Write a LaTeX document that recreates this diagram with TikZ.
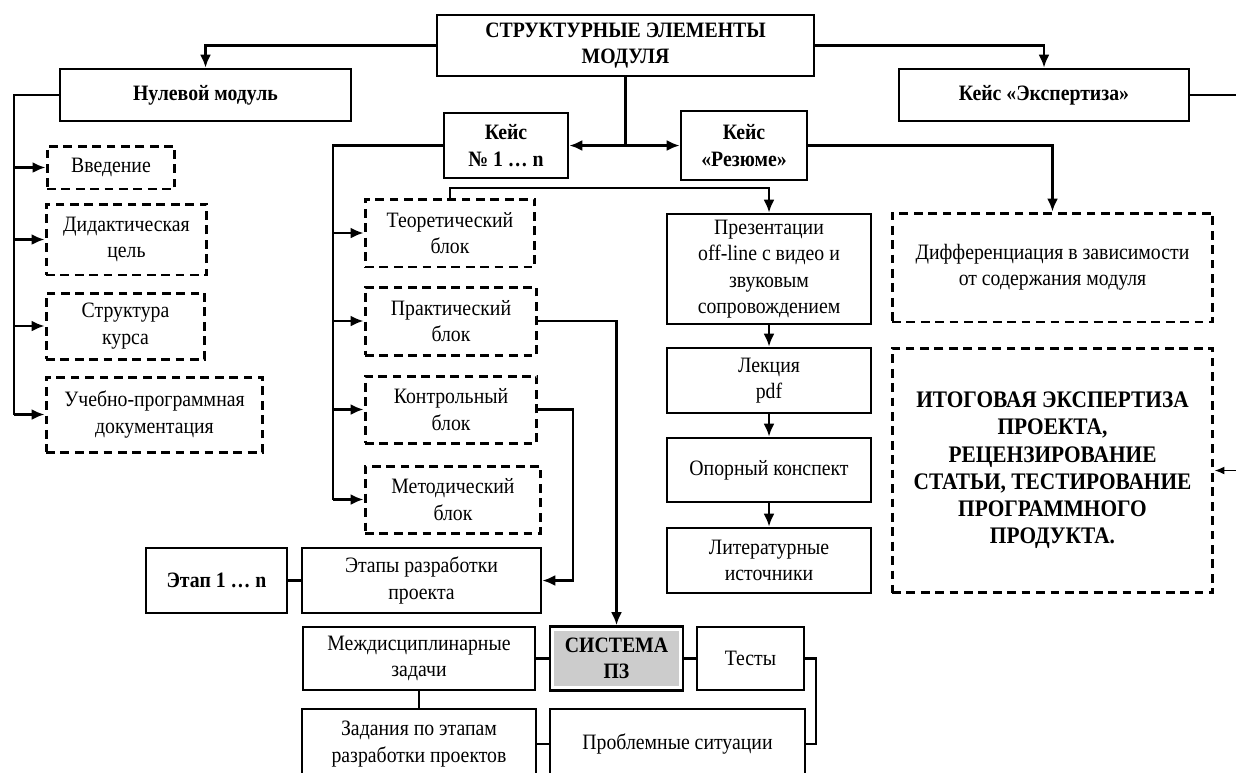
\documentclass[tikz,border=0pt]{standalone}
\usepackage{fontspec}
\setmainfont{Liberation Serif}[FakeStretch=0.9]
\usetikzlibrary{arrows.meta}

\begin{document}
\begin{tikzpicture}[x=0.02cm,y=-0.02cm]
		\tikzstyle{fleche}=[-{Latex[length=2.6mm,width=2.2mm]},line width=1.3pt]
		\tikzstyle{trait}=[line width=1.3pt]
		\tikzstyle{boite}=[draw,line width=1.6pt,align=center,inner sep=2pt,font=\fontsize{12.5}{15}\selectfont]
		\tikzstyle{titre}=[boite,font=\fontsize{12.5}{15}\selectfont\bfseries]
		\tikzstyle{pointille}=[boite,line width=1.7pt,dash pattern=on 5pt off 3.2pt]
		\tikzstyle{systeme}=[titre,path picture={\fill[gray!40] ([shift={(2.5pt,-2.5pt)}]path picture bounding box.north west) rectangle ([shift={(-2.5pt,2.5pt)}]path picture bounding box.south east);}]
		
		\useasboundingbox (0,0) rectangle (1236,772);
		\clip (0,0) rectangle (1236,772);
		
		% haut
		\node[titre,minimum width=7.54cm,minimum height=1.22cm] (M) at (625.5,45.5) {СТРУКТУРНЫЕ ЭЛЕМЕНТЫ\\МОДУЛЯ};
		\node[titre,minimum width=5.82cm,minimum height=1.04cm] (N) at (205.5,95) {Нулевой модуль};
		\node[titre,minimum width=5.8cm,minimum height=1.04cm] (E) at (1044,95) {Кейс «Экспертиза»};
		\node[titre,minimum width=2.48cm,minimum height=1.3cm] (K) at (506,145.5) {Кейс\\№ 1 … n};
		\node[titre,minimum width=2.52cm,minimum height=1.38cm] (R) at (744,145.5) {Кейс\\«Резюме»};
		
		% nulevoi modul
		\node[pointille,minimum width=2.56cm,minimum height=0.86cm] (Na) at (111,167.5) {Введение};
		\node[pointille,minimum width=3.22cm,minimum height=1.42cm] (Nb) at (126.5,239.5) {Дидактическая\\цель};
		\node[pointille,minimum width=3.18cm,minimum height=1.32cm] (Nc) at (125.5,326) {Структура\\курса};
		\node[pointille,minimum width=4.34cm,minimum height=1.5cm] (Nd) at (154.5,414.5) {Учебно-программная\\документация};
		
		% keis 1 ... n
		\node[pointille,minimum width=3.4cm,minimum height=1.36cm] (Ka) at (450,233) {Теоретический\\блок};
		\node[pointille,minimum width=3.44cm,minimum height=1.36cm] (Kb) at (451,321) {Практический\\блок};
		\node[pointille,minimum width=3.44cm,minimum height=1.34cm] (Kc) at (451,409.5) {Контрольный\\блок};
		\node[pointille,minimum width=3.52cm,minimum height=1.34cm] (Kd) at (453,499.5) {Методический\\блок};
		
		% rezume
		\node[boite,minimum width=4.08cm,minimum height=2.2cm] (P) at (769,269) {Презентации\\off-line с видео и\\звуковым\\сопровождением};
		\node[boite,minimum width=4.08cm,minimum height=1.3cm] (Pa) at (769,380.5) {Лекция\\pdf};
		\node[boite,minimum width=4.08cm,minimum height=1.28cm] (Pb) at (769,470) {Опорный конспект};
		\node[boite,minimum width=4.08cm,minimum height=1.3cm] (Pc) at (769,560.5) {Литературные\\источники};
		
		% ekspertiza
		\node[pointille,minimum width=6.42cm,minimum height=2.18cm] (D) at (1052.5,267.5) {Дифференциация в зависимости\\от содержания модуля};
		\node[pointille,minimum width=6.42cm,minimum height=4.9cm,font=\fontsize{13.5}{15.5}\selectfont\bfseries] (I) at (1052.5,470.5) {ИТОГОВАЯ ЭКСПЕРТИЗА\\ПРОЕКТА,\\РЕЦЕНЗИРОВАНИЕ\\СТАТЬИ, ТЕСТИРОВАНИЕ\\ПРОГРАММНОГО\\ПРОДУКТА.};
		
		% bas
		\node[titre,minimum width=2.82cm,minimum height=1.3cm] (Et) at (216.5,580.5) {Этап 1 … n};
		\node[boite,minimum width=4.78cm,minimum height=1.3cm] (Ep) at (421.5,580.5) {Этапы разработки\\проекта};
		\node[boite,minimum width=4.64cm,minimum height=1.26cm] (Md) at (419,658.5) {Междисциплинарные\\задачи};
		\node[systeme,minimum width=2.66cm,minimum height=1.28cm] (S) at (616.5,658.5) {СИСТЕМА\\ПЗ};
		\node[boite,minimum width=2.14cm,minimum height=1.26cm] (T) at (750.5,658.5) {Тесты};
		\node[boite,minimum width=4.68cm,minimum height=1.4cm] (Z) at (419,744) {Задания по этапам\\разработки проектов};
		\node[boite,minimum width=5.1cm,minimum height=1.4cm] (Pr) at (677.5,744) {Проблемные ситуации};
		
		\coordinate (Mb) at (M.south |- K.east);
		\coordinate (Nv) at (14,414.5);
		\coordinate (Kv) at (333,499.5);
		\coordinate (Kh) at (450,188);
		\coordinate (Kk) at (573,409.5);
		\coordinate (Tk) at (816,658.5);
		\coordinate (Eb) at (1236,95);
		\coordinate (Ib) at (1236,470.5);
		
		\draw[fleche] (M.west) -| (N.north);
		\draw[fleche] (M.east) -| (E.north);
		\draw[trait] (M.south) -- (Mb);
		\draw[fleche] (Mb) -- (K.east);
		\draw[fleche] (Mb) -- (R.west);
		\draw[trait] (E.east) -- (Eb);
		
		\draw[trait] (N.west) -| (Nv);
		\draw[fleche] (Nv |- Na.west) -- (Na.west);
		\draw[fleche] (Nv |- Nb.west) -- (Nb.west);
		\draw[fleche] (Nv |- Nc.west) -- (Nc.west);
		\draw[fleche] (Nv) -- (Nd.west);
		
		\draw[trait] (K.west) -| (Kv);
		\draw[fleche] (Kv |- Ka.west) -- (Ka.west);
		\draw[fleche] (Kv |- Kb.west) -- (Kb.west);
		\draw[fleche] (Kv |- Kc.west) -- (Kc.west);
		\draw[fleche] (Kv) -- (Kd.west);
		
		\draw[fleche] (Ka.north) -- (Kh) -| (P.north);
		\draw[fleche] (P) -- (Pa);
		\draw[fleche] (Pa) -- (Pb);
		\draw[fleche] (Pb) -- (Pc);
		
		\draw[fleche] (R.east) -| (D.north);
		\draw[-{Latex[length=2mm,width=1.6mm]},line width=0.9pt] (Ib) -- (I.east);
		
		\draw[fleche] (Kb.east) -| (S.north);
		\draw[fleche] (Kc.east) -- (Kk) |- (Ep.east);
		\draw[trait] (Et) -- (Ep);
		\draw[trait] (Md) -- (S);
		\draw[trait] (S) -- (T);
		\draw[trait] (Md) -- (Z);
		\draw[trait] (Z) -- (Pr);
		\draw[trait] (T.east) -- (Tk) |- (Pr.east);
	\end{tikzpicture}
\end{document}
